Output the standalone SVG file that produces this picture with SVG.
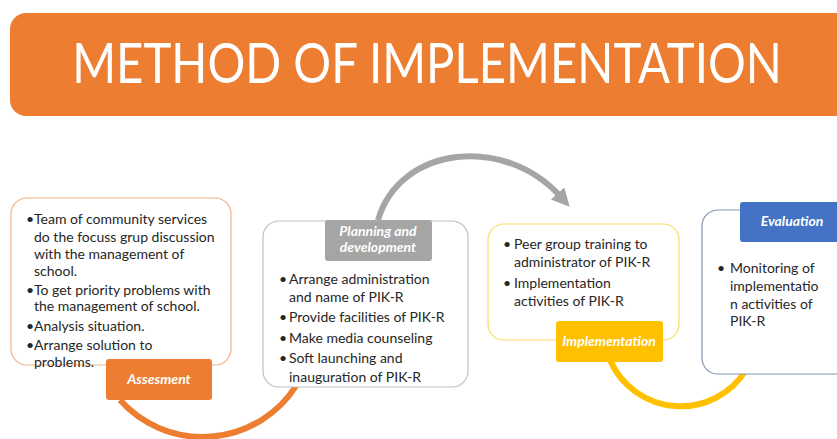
<svg xmlns="http://www.w3.org/2000/svg" width="837" height="439" viewBox="0 0 837 439">
<style>
.body{font-family:Lato,"Liberation Sans",sans-serif;font-size:14px;fill:#262626}
.lbl{font-family:Lato,"Liberation Sans",sans-serif;font-size:14px;font-weight:bold;font-style:italic;fill:#ffffff;text-anchor:middle}
.box{fill:#ffffff;stroke-width:1.2}
.arc{fill:none;stroke-width:6}
</style>
<defs>
<marker id="ah" viewBox="0 0 10 10" refX="2" refY="5" markerWidth="3" markerHeight="3" orient="auto" markerUnits="strokeWidth">
<path d="M0,0 L10,5 L0,10 z" fill="#a5a5a5"/>
</marker>
</defs>
<rect x="0" y="0" width="837" height="439" fill="#ffffff"/>
<g id="title">
<rect x="10" y="13" width="845" height="103" rx="16" fill="#ed7d31"/>
<text transform="translate(427,83) scale(1,1.2)" x="0" y="0" font-family="Lato,'Liberation Sans',sans-serif" font-weight="400" font-size="47.3" fill="#ffffff" text-anchor="middle">METHOD OF IMPLEMENTATION</text>
</g>
<g id="connectors">
<path class="arc" stroke="#ed7d31" d="M120,400 A111,111 0 0 0 296,386"/>
<path class="arc" stroke="#a5a5a5" d="M378,220 C400,145 505,135 560,196" marker-end="url(#ah)"/>
<path class="arc" stroke="#ffc000" d="M610,360 A77,77 0 0 0 746,370"/>
</g>
<g id="assesment">
<rect class="box" x="11" y="198" width="220" height="167" rx="16" stroke="#f4b183"/>
<g class="body">
<text x="26" y="224">•</text><text x="34" y="224">Team of community services</text>
<text x="34" y="242">do the focuss grup discussion</text>
<text x="34" y="259">with the management of</text>
<text x="34" y="276">school.</text>
<text x="26" y="295">•</text><text x="34" y="295">To get priority problems with</text>
<text x="34" y="311">the management of school.</text>
<text x="26" y="331">•</text><text x="34" y="331">Analysis situation.</text>
<text x="26" y="350">•</text><text x="34" y="350">Arrange solution to</text>
<text x="34" y="367">problems.</text>
</g>
<rect x="106" y="359" width="106" height="41" rx="3" fill="#ed7d31"/>
<text class="lbl" x="159" y="384">Assesment</text>
</g>
<g id="planning">
<rect class="box" x="263" y="221" width="205" height="166" rx="16" stroke="#bfbfbf"/>
<rect x="325" y="220" width="107" height="41" rx="3" fill="#a5a5a5"/>
<text class="lbl" x="378" y="236" font-size="13.5">Planning and<tspan x="378" dy="16">development</tspan></text>
<g class="body">
<text x="279" y="284">•</text><text x="289" y="284">Arrange administration</text>
<text x="289" y="302">and name of PIK-R</text>
<text x="279" y="322">•</text><text x="289" y="322">Provide facilities of PIK-R</text>
<text x="279" y="343">•</text><text x="289" y="343">Make media counseling</text>
<text x="279" y="363">•</text><text x="289" y="363">Soft launching and</text>
<text x="289" y="382">inauguration of PIK-R</text>
</g>
</g>
<g id="implementation">
<rect class="box" x="488" y="224" width="191" height="116" rx="16" stroke="#ffd966"/>
<g class="body">
<text x="503" y="249">•</text><text x="514" y="249">Peer group training to</text>
<text x="514" y="267">administrator of PIK-R</text>
<text x="503" y="288">•</text><text x="514" y="288">Implementation</text>
<text x="514" y="306">activities of PIK-R</text>
</g>
<rect x="556" y="321" width="107" height="41" rx="3" fill="#ffc000"/>
<text class="lbl" x="609" y="346">Implementation</text>
</g>
<g id="evaluation">
<rect class="box" x="702" y="210" width="160" height="164" rx="16" stroke="#8497b0"/>
<rect x="740" y="202" width="107" height="40" rx="3" fill="#4472c4"/>
<text class="lbl" x="792" y="226">Evaluation</text>
<g class="body">
<text x="717" y="273">•</text><text x="730" y="273">Monitoring of</text>
<text x="730" y="291">implementatio</text>
<text x="730" y="309">n activities of</text>
<text x="730" y="326">PIK-R</text>
</g>
</g>
</svg>
